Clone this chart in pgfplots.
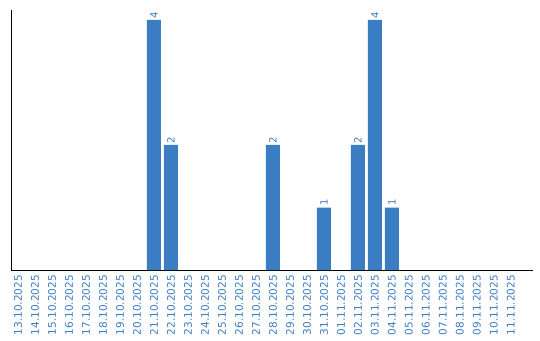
\documentclass[border=0pt]{standalone}
\usepackage{pgfplots}
\pgfplotsset{compat=1.18}
\usepackage{fontspec}
\setmainfont{DejaVu Sans}
\definecolor{barblue}{HTML}{3B7DC3}
\begin{document}
\begin{tikzpicture}
\begin{axis}[
  at={(0,0)}, anchor=south west,
  scale only axis, width=522pt, height=260pt,
  xmin=-0.41, xmax=30.3, ymin=0, ymax=4.16,
  axis lines=left,
  axis line style={-, black, line width=0.9pt},
  ytick=\empty,
  xtick={0,...,29},
  major tick length=0pt,
  xticklabels={13.10.2025,14.10.2025,15.10.2025,16.10.2025,17.10.2025,18.10.2025,19.10.2025,20.10.2025,21.10.2025,22.10.2025,23.10.2025,24.10.2025,25.10.2025,26.10.2025,27.10.2025,28.10.2025,29.10.2025,30.10.2025,31.10.2025,01.11.2025,02.11.2025,03.11.2025,04.11.2025,05.11.2025,06.11.2025,07.11.2025,08.11.2025,09.11.2025,10.11.2025,11.11.2025},
  x tick label style={rotate=90, anchor=east, font=\fontsize{10.5}{12}\selectfont, text=barblue, inner sep=0pt},
  tick label style={/pgf/number format/assume math mode=true},
  xticklabel shift=5pt,
  ybar, bar width=14pt,
  nodes near coords,
  nodes near coords style={rotate=90, anchor=west, font=\fontsize{10}{12}\selectfont, text=barblue, inner sep=1.5pt, /pgf/number format/assume math mode=true},
  clip=false,
]
\addplot[fill=barblue, draw=none] coordinates {(8,4) (9,2) (15,2) (18,1) (20,2) (21,4) (22,1)};
\end{axis}
\pgfresetboundingbox
\path[use as bounding box] (-11pt,-70pt) rectangle (529pt,270pt);
\end{tikzpicture}
\end{document}
